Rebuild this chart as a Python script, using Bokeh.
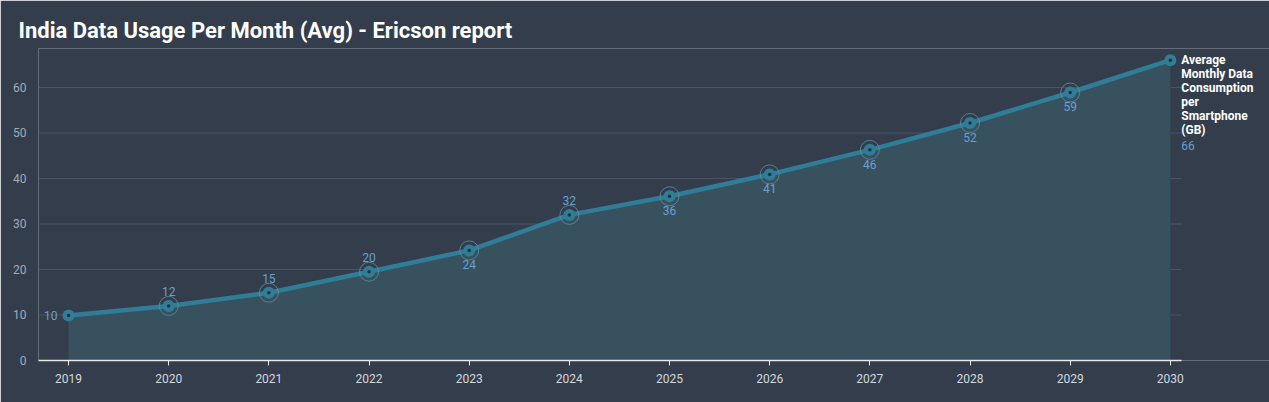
from bokeh.plotting import figure
from bokeh.models import ColumnDataSource, FixedTicker, Range1d
from bokeh.core.properties import value
from bokeh.embed import file_html
from bokeh.resources import INLINE

years = [2019, 2020, 2021, 2022, 2023, 2024, 2025, 2026, 2027, 2028, 2029, 2030]
usage_gb = [9.9, 12.0, 14.9, 19.5, 24.2, 32.0, 36.1, 40.9, 46.3, 52.2, 58.9, 66.0]
usage_labels = ["10", "12", "15", "20", "24", "32", "36", "41", "46", "52", "59", "66"]
label_place = ["left", "above", "above", "above", "below", "above",
               "below", "below", "below", "below", "below", "right"]
y_ticks = [0, 10, 20, 30, 40, 50, 60]
series_name = "Average\nMonthly Data\nConsumption\nper\nSmartphone\n(GB)"
title_text = "India Data Usage Per Month (Avg) - Ericson report"

BG = "#333d4c"
LINE = "#307d97"
FILL = "#37515f"
LABEL = "#6a9fd2"

X0, XAX_END = 2018.70, 2030.11   # plotted axis extent
p = figure(width=1269, height=402, output_backend="svg", toolbar_location=None,
           x_range=Range1d(X0, 2030.99), y_range=Range1d(0, 68.57),
           background_fill_color=BG, border_fill_color=BG,
           min_border_left=38, min_border_right=0, min_border_bottom=42, min_border_top=48)
p.outline_line_color = None

p.title.text = title_text
p.title.text_color = "#ffffff"
p.title.text_font = "Roboto"
p.title.text_font_size = "22px"
p.title.text_font_style = "bold"
p.title.offset = -20
p.title.standoff = 11

# grid lines limited to the axis extent
grid_y = y_ticks[1:]
p.segment(x0=[X0] * len(grid_y), x1=[XAX_END] * len(grid_y), y0=grid_y, y1=grid_y,
          line_color="#4a5464", line_width=1)

src = ColumnDataSource(dict(x=years, y=usage_gb))
p.varea(x="x", y1=0, y2="y", source=src, fill_color=FILL)
p.line(x="x", y="y", source=src, line_color=LINE, line_width=4.5)

mid = ColumnDataSource(dict(x=years[1:-1], y=usage_gb[1:-1]))
ends = ColumnDataSource(dict(x=[years[0], years[-1]], y=[usage_gb[0], usage_gb[-1]]))
p.scatter(x="x", y="y", source=mid, size=19, fill_color=None, line_color="#5f8ea3", line_width=1, line_alpha=0.8)
p.scatter(x="x", y="y", source=mid, size=12, fill_color=LINE, line_color=None)
p.scatter(x="x", y="y", source=ends, size=12, fill_color=LINE, line_color=None)
p.scatter(x="x", y="y", source=dict(x=years, y=usage_gb), size=3.5, fill_color="#23303d", line_color=None)

# data labels
lx, ly, lt, xo, yo, al, bl = [], [], [], [], [], [], []
rx, ry, rt = [], [], []
for yr, v, t, pl in zip(years, usage_gb, usage_labels, label_place):
    if pl == "right":
        rx.append(yr); ry.append(v); rt.append(t)
        continue
    lx.append(yr); ly.append(v); lt.append(t)
    if pl == "above":
        xo.append(0); yo.append(-10); al.append("center"); bl.append("bottom")
    elif pl == "below":
        xo.append(0); yo.append(10); al.append("center"); bl.append("top")
    else:
        xo.append(-11); yo.append(0); al.append("right"); bl.append("middle")
p.text(x="x", y="y", text="t", x_offset="xo", y_offset="yo", text_align="al", text_baseline="bl",
       source=ColumnDataSource(dict(x=lx, y=ly, t=lt, xo=xo, yo=yo, al=al, bl=bl)),
       text_color=LABEL, text_font=value("Roboto"), text_font_size="12px")
p.text(x=rx, y=ry, text=rt, x_offset=11, y_offset=85, text_align="left", text_baseline="middle",
       text_color=LABEL, text_font=value("Roboto"), text_font_size="12px")

# series name at right end
p.text(x=[years[-1]], y=[usage_gb[-1]], text=[series_name], x_offset=11, y_offset=-7,
       text_align="left", text_baseline="top", text_color="#ffffff",
       text_font=value("Roboto"), text_font_style="bold", text_font_size="12px",
       text_line_height=1.0)

p.xaxis.ticker = FixedTicker(ticks=years)
p.xaxis.bounds = (X0, XAX_END)
p.xaxis.axis_line_color = "#e8e8e8"
p.xaxis.axis_line_width = 1.5
p.xaxis.major_tick_line_color = "#e8e8e8"
p.xaxis.major_tick_in = 0
p.xaxis.major_tick_out = 5
p.xaxis.minor_tick_line_color = None
p.xaxis.major_label_text_color = "#d4d8de"
p.xaxis.major_label_text_font = "Roboto"
p.xaxis.major_label_text_font_size = "12px"
p.xaxis.major_label_standoff = 8

p.yaxis.ticker = FixedTicker(ticks=y_ticks)
p.yaxis.axis_line_color = None
p.yaxis.major_tick_line_color = None
p.yaxis.minor_tick_line_color = None
p.yaxis.major_label_text_color = "#a3abb6"
p.yaxis.major_label_text_font = "Roboto"
p.yaxis.major_label_text_font_size = "12px"
p.yaxis.major_label_standoff = 6

p.xgrid.grid_line_color = None
p.ygrid.grid_line_color = None

open("out.html", "w").write(file_html(p, INLINE))
